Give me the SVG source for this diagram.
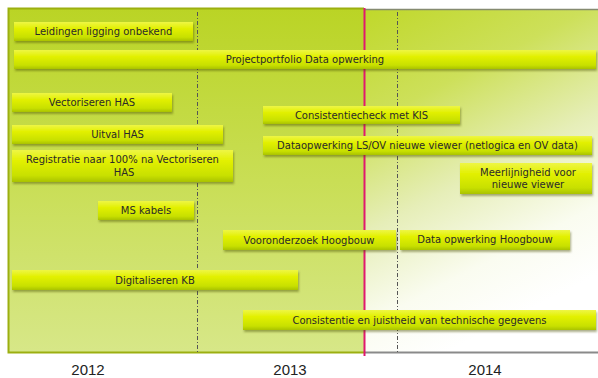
<svg xmlns="http://www.w3.org/2000/svg" width="598" height="378" viewBox="0 0 598 378">
<defs>
<linearGradient id="gLeft" x1="0" y1="0" x2="0" y2="1">
<stop offset="0" stop-color="#bad425"/>
<stop offset="0.5" stop-color="#c9de55"/>
<stop offset="1" stop-color="#d7e788"/>
</linearGradient>
<linearGradient id="gRight" x1="0" y1="0" x2="0.35" y2="1">
<stop offset="0" stop-color="#c0d82a"/>
<stop offset="0.3" stop-color="#cde05a"/>
<stop offset="0.58" stop-color="#e6eeb8"/>
<stop offset="0.82" stop-color="#fafcf0"/>
<stop offset="1" stop-color="#ffffff"/>
</linearGradient>
<linearGradient id="gBar" x1="0" y1="0" x2="0" y2="1">
<stop offset="0" stop-color="#eef645"/>
<stop offset="0.35" stop-color="#e2f000"/>
<stop offset="0.8" stop-color="#c8e000"/>
<stop offset="1" stop-color="#a9c200"/>
</linearGradient>
<filter id="sh" x="-5%" y="-20%" width="110%" height="160%">
<feDropShadow dx="1" dy="2" stdDeviation="1" flood-color="#4a5000" flood-opacity="0.45"/>
</filter>
</defs>
<style>
.bar{fill:url(#gBar);filter:url(#sh)}
.t{font-family:"DejaVu Sans",Verdana,sans-serif;font-size:10px;fill:#2a2a2a;text-anchor:middle}
.yr{font-family:"Liberation Sans",Arial,sans-serif;font-size:15px;fill:#222;text-anchor:middle}
.dd{stroke:#555;stroke-width:1;stroke-dasharray:4 2 1 2;fill:none}
</style>
<g id="background">
<rect x="364" y="9" width="234" height="344" fill="url(#gRight)"/>
<line x1="364" y1="9.5" x2="598" y2="9.5" stroke="#858a70" stroke-width="1.5"/>
<line x1="364" y1="352.5" x2="598" y2="352.5" stroke="#8a8a8a" stroke-width="2"/>
<rect x="8" y="8" width="356" height="345" fill="url(#gLeft)"/>
<path d="M364 8.5 H8.5 V352.5 H364" fill="none" stroke="#9caf10" stroke-width="2"/>
</g>
<g id="connectors">
<line class="dd" x1="197.5" y1="12" x2="197.5" y2="352"/>
<line class="dd" x1="397.5" y1="12" x2="397.5" y2="352"/>
<line x1="364.5" y1="8" x2="364.5" y2="356" stroke="#e0196e" stroke-width="2"/>
</g>
<g id="n1"><rect class="bar" x="14" y="22" width="179" height="19"/><text class="t" x="103.5" y="35">Leidingen ligging onbekend</text></g>
<g id="n2"><rect class="bar" x="14" y="50" width="582" height="19"/><text class="t" x="305" y="63">Projectportfolio Data opwerking</text></g>
<g id="n3"><rect class="bar" x="12" y="93" width="160" height="19"/><text class="t" x="92" y="106">Vectoriseren HAS</text></g>
<g id="n4"><rect class="bar" x="12" y="125" width="211" height="19"/><text class="t" x="117.5" y="138">Uitval HAS</text></g>
<g id="n5"><rect class="bar" x="12" y="150" width="221" height="32"/><text class="t" x="122.5" y="163">Registratie naar 100% na Vectoriseren</text><text class="t" x="124" y="176">HAS</text></g>
<g id="n6"><rect class="bar" x="263" y="106" width="197" height="18"/><text class="t" x="361.5" y="119">Consistentiecheck met KIS</text></g>
<g id="n7"><rect class="bar" x="263" y="136" width="329" height="19"/><text class="t" x="427.5" y="149">Dataopwerking LS/OV nieuwe viewer (netlogica en OV data)</text></g>
<g id="n8"><rect class="bar" x="460" y="163" width="132" height="31"/><text class="t" x="528" y="176">Meerlijnigheid voor</text><text class="t" x="528" y="188">nieuwe viewer</text></g>
<g id="n9"><rect class="bar" x="98" y="201" width="96" height="19"/><text class="t" x="146" y="214">MS kabels</text></g>
<g id="n10"><rect class="bar" x="223" y="230" width="173" height="20"/><text class="t" x="309" y="244">Vooronderzoek Hoogbouw</text></g>
<g id="n11"><rect class="bar" x="400" y="230" width="170" height="20"/><text class="t" x="485" y="243">Data opwerking Hoogbouw</text></g>
<g id="n12"><rect class="bar" x="12" y="270" width="286" height="20"/><text class="t" x="155" y="284">Digitaliseren KB</text></g>
<g id="n13"><rect class="bar" x="243" y="310" width="353" height="20"/><text class="t" x="419.5" y="324">Consistentie en juistheid van technische gegevens</text></g>
<g id="years">
<text class="yr" x="88" y="375">2012</text>
<text class="yr" x="290" y="375">2013</text>
<text class="yr" x="485" y="375">2014</text>
</g>
</svg>
